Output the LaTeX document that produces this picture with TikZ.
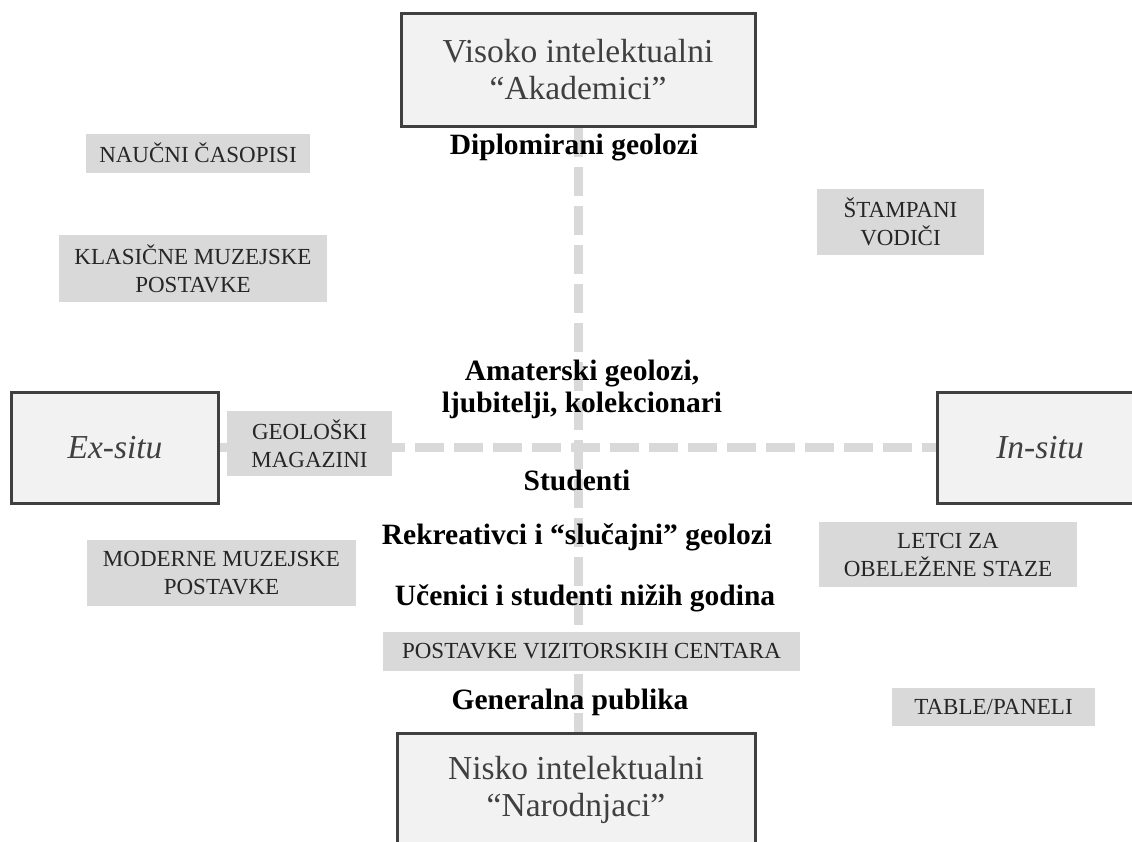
\documentclass[tikz,border=0pt]{standalone}
\usepackage{fontspec}
\setmainfont{Liberation Serif}
\usepackage{xcolor}
\usetikzlibrary{positioning,backgrounds}

\definecolor{okvir}{HTML}{404040}
\definecolor{pozadina}{HTML}{F2F2F2}
\definecolor{medij}{HTML}{D9D9D9}
\definecolor{osa}{HTML}{D9D9D9}

\tikzset{
  pol/.style={draw=okvir, line width=1.2pt, fill=pozadina, text=okvir, align=center,
    inner sep=0pt, font=\fontsize{13.4}{14.6}\selectfont},
  medijbox/.style={fill=medij, text=black!85, align=center, inner sep=0pt,
    font=\fontsize{9.2}{11.2}\selectfont},
  publika/.style={align=center, font=\bfseries\fontsize{11.8}{12.8}\selectfont},
  osa/.style={draw=osa, line width=3.6pt, dash pattern=on 11.6pt off 4pt}
}

\begin{document}
\begin{tikzpicture}[x=0.4pt, y=-0.4pt]
    \useasboundingbox (0,0) rectangle (1132,841);
    \clip (0,0) rectangle (1132,841);

    % Polovi
    \node[pol, minimum width=141.6pt, minimum height=45.2pt] (visoko) at (578,69.5) {Visoko intelektualni\\“Akademici”};
    \node[pol, minimum width=143.2pt, minimum height=45.2pt] (nisko) at (576,790) {Nisko intelektualni\\“Narodnjaci”};
    \node[pol, minimum width=82.4pt, minimum height=44.4pt] (exsitu) at (115,447.5) {\itshape Ex-situ};
    \node[pol, minimum width=82.4pt, minimum height=44.4pt] (insitu) at (1040,447.5) {\itshape In-situ};

    % Mediji
    \node[medijbox, minimum width=89.2pt, minimum height=15.6pt] (naucni) at (198,153) {NAUČNI ČASOPISI};
    \node[medijbox, minimum width=106.8pt, minimum height=26.8pt] (klasicne) at (193,268.5) {KLASIČNE MUZEJSKE\\POSTAVKE};
    \node[medijbox, minimum width=66pt, minimum height=26pt] (magazini) at (309.5,443.5) {GEOLOŠKI\\MAGAZINI};
    \node[medijbox, minimum width=107.6pt, minimum height=26.4pt] (moderne) at (221.5,573) {MODERNE MUZEJSKE\\POSTAVKE};
    \node[medijbox, minimum width=66.8pt, minimum height=26.4pt] (vodici) at (900.5,222) {ŠTAMPANI\\VODIČI};
    \node[medijbox, minimum width=103.2pt, minimum height=26pt] (letci) at (948,554.5) {LETCI ZA\\OBELEŽENE STAZE};
    \node[medijbox, minimum width=81.2pt, minimum height=15.2pt] (paneli) at (993.5,707) {TABLE/PANELI};
    \node[medijbox, minimum width=166.8pt, minimum height=15.6pt] (centri) at (591.5,651.5) {POSTAVKE VIZITORSKIH CENTARA};

    % Publika
    \node[publika] (diplomirani) at (574,148) {Diplomirani geolozi};
    \node[publika] (amateri) at (582,389) {Amaterski geolozi,\\ljubitelji, kolekcionari};
    \node[publika] (studenti) at (577,480) {Studenti};
    \node[publika] (rekreativci) at (577,537) {Rekreativci i “slučajni” geolozi};
    \node[publika] (ucenici) at (585,598) {Učenici i studenti nižih godina};
    \node[publika] (generalna) at (570,702) {Generalna publika};

    % Ose
    \begin{pgfonlayer}{background}
        \fill[white] (0,0) rectangle (1132,841);
        \draw[osa] (visoko.south) -- (visoko.south |- nisko.north);
        \draw[osa] (exsitu.east) -- (insitu.west);
    \end{pgfonlayer}
\end{tikzpicture}
\end{document}
